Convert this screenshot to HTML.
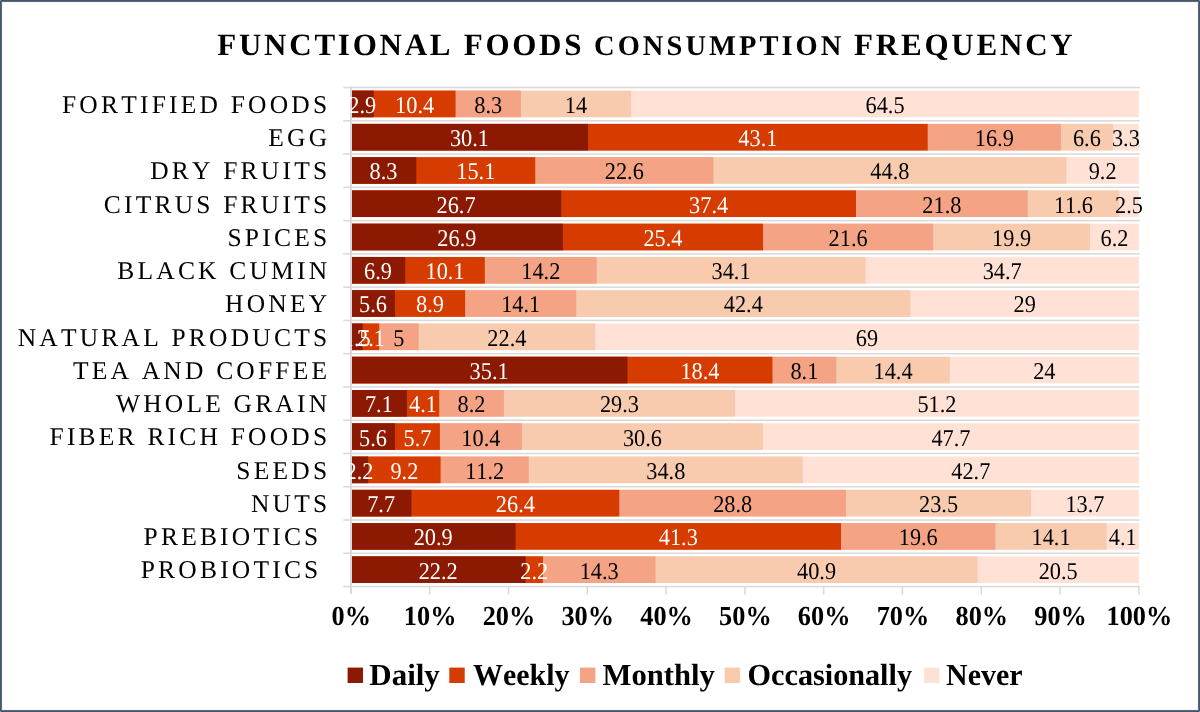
<!DOCTYPE html>
<html><head><meta charset="utf-8"><style>
html,body{margin:0;padding:0;background:#fff;}
body{width:1200px;height:712px;position:relative;overflow:hidden;}
#frame{position:absolute;left:0;top:0;width:1198px;height:710px;border:1px solid #44546A;box-shadow:inset 0 0 0 1px #5E6C82,inset 0 0 0 2px rgba(68,84,106,0.08);}
svg{position:absolute;left:0;top:0;will-change:transform;font-family:"Liberation Serif",serif;font-kerning:none;text-rendering:geometricPrecision;}
.v{font-size:24.0px;}
.c{font-size:25.5px;letter-spacing:3.2px;fill:#000;}
.a{font-size:27.0px;font-weight:bold;}
.t{font-size:31.0px;font-weight:bold;letter-spacing:2.75px;}
.k{position:absolute;width:1px;height:1px;background:#8C97A6;}
.l{font-size:30.67px;font-weight:bold;}
</style></head><body>
<svg width="1200" height="712" viewBox="0 0 1200 712"><rect x="343.35" y="86.80" width="796.30" height="1.5" fill="#D9D9D9"/><rect x="343.35" y="120.07" width="796.30" height="1.5" fill="#D9D9D9"/><rect x="343.35" y="153.33" width="796.30" height="1.5" fill="#D9D9D9"/><rect x="343.35" y="186.60" width="796.30" height="1.5" fill="#D9D9D9"/><rect x="343.35" y="219.87" width="796.30" height="1.5" fill="#D9D9D9"/><rect x="343.35" y="253.13" width="796.30" height="1.5" fill="#D9D9D9"/><rect x="343.35" y="286.40" width="796.30" height="1.5" fill="#D9D9D9"/><rect x="343.35" y="319.67" width="796.30" height="1.5" fill="#D9D9D9"/><rect x="343.35" y="352.94" width="796.30" height="1.5" fill="#D9D9D9"/><rect x="343.35" y="386.20" width="796.30" height="1.5" fill="#D9D9D9"/><rect x="343.35" y="419.47" width="796.30" height="1.5" fill="#D9D9D9"/><rect x="343.35" y="452.74" width="796.30" height="1.5" fill="#D9D9D9"/><rect x="343.35" y="486.00" width="796.30" height="1.5" fill="#D9D9D9"/><rect x="343.35" y="519.27" width="796.30" height="1.5" fill="#D9D9D9"/><rect x="343.35" y="552.54" width="796.30" height="1.5" fill="#D9D9D9"/><rect x="343.35" y="585.81" width="796.30" height="1.5" fill="#D9D9D9"/><rect x="428.91" y="586.31" width="1.5" height="8.3" fill="#D9D9D9"/><rect x="507.71" y="586.31" width="1.5" height="8.3" fill="#D9D9D9"/><rect x="586.52" y="586.31" width="1.5" height="8.3" fill="#D9D9D9"/><rect x="665.32" y="586.31" width="1.5" height="8.3" fill="#D9D9D9"/><rect x="744.12" y="586.31" width="1.5" height="8.3" fill="#D9D9D9"/><rect x="822.93" y="586.31" width="1.5" height="8.3" fill="#D9D9D9"/><rect x="901.74" y="586.31" width="1.5" height="8.3" fill="#D9D9D9"/><rect x="980.54" y="586.31" width="1.5" height="8.3" fill="#D9D9D9"/><rect x="1059.35" y="586.31" width="1.5" height="8.3" fill="#D9D9D9"/><rect x="1138.15" y="586.31" width="1.5" height="8.3" fill="#D9D9D9"/><rect x="350.85" y="90.63" width="788.05" height="26.60" fill="#FFE1D5"/><rect x="350.85" y="90.63" width="280.27" height="26.60" fill="#F8CBAE"/><rect x="350.85" y="90.63" width="170.05" height="26.60" fill="#F5A385"/><rect x="350.85" y="90.63" width="104.71" height="26.60" fill="#D63B00"/><rect x="350.85" y="90.63" width="22.83" height="26.60" fill="#8C1A02"/><rect x="350.85" y="123.90" width="788.05" height="26.60" fill="#FFE1D5"/><rect x="350.85" y="123.90" width="762.04" height="26.60" fill="#F8CBAE"/><rect x="350.85" y="123.90" width="710.03" height="26.60" fill="#F5A385"/><rect x="350.85" y="123.90" width="576.85" height="26.60" fill="#D63B00"/><rect x="350.85" y="123.90" width="237.20" height="26.60" fill="#8C1A02"/><rect x="350.85" y="157.17" width="788.05" height="26.60" fill="#FFE1D5"/><rect x="350.85" y="157.17" width="715.55" height="26.60" fill="#F8CBAE"/><rect x="350.85" y="157.17" width="362.50" height="26.60" fill="#F5A385"/><rect x="350.85" y="157.17" width="184.40" height="26.60" fill="#D63B00"/><rect x="350.85" y="157.17" width="65.41" height="26.60" fill="#8C1A02"/><rect x="350.85" y="190.43" width="788.05" height="26.60" fill="#FFE1D5"/><rect x="350.85" y="190.43" width="768.35" height="26.60" fill="#F8CBAE"/><rect x="350.85" y="190.43" width="676.93" height="26.60" fill="#F5A385"/><rect x="350.85" y="190.43" width="505.14" height="26.60" fill="#D63B00"/><rect x="350.85" y="190.43" width="210.41" height="26.60" fill="#8C1A02"/><rect x="350.85" y="223.70" width="788.05" height="26.60" fill="#FFE1D5"/><rect x="350.85" y="223.70" width="739.19" height="26.60" fill="#F8CBAE"/><rect x="350.85" y="223.70" width="582.37" height="26.60" fill="#F5A385"/><rect x="350.85" y="223.70" width="412.15" height="26.60" fill="#D63B00"/><rect x="350.85" y="223.70" width="211.99" height="26.60" fill="#8C1A02"/><rect x="350.85" y="256.97" width="788.05" height="26.60" fill="#FFE1D5"/><rect x="350.85" y="256.97" width="514.60" height="26.60" fill="#F8CBAE"/><rect x="350.85" y="256.97" width="245.87" height="26.60" fill="#F5A385"/><rect x="350.85" y="256.97" width="133.97" height="26.60" fill="#D63B00"/><rect x="350.85" y="256.97" width="54.38" height="26.60" fill="#8C1A02"/><rect x="350.85" y="290.24" width="788.05" height="26.60" fill="#FFE1D5"/><rect x="350.85" y="290.24" width="559.52" height="26.60" fill="#F8CBAE"/><rect x="350.85" y="290.24" width="225.38" height="26.60" fill="#F5A385"/><rect x="350.85" y="290.24" width="114.27" height="26.60" fill="#D63B00"/><rect x="350.85" y="290.24" width="44.13" height="26.60" fill="#8C1A02"/><rect x="350.85" y="323.50" width="788.05" height="26.60" fill="#FFE1D5"/><rect x="350.85" y="323.50" width="244.30" height="26.60" fill="#F8CBAE"/><rect x="350.85" y="323.50" width="67.77" height="26.60" fill="#F5A385"/><rect x="350.85" y="323.50" width="28.37" height="26.60" fill="#D63B00"/><rect x="350.85" y="323.50" width="11.82" height="26.60" fill="#8C1A02"/><rect x="350.85" y="356.77" width="788.05" height="26.60" fill="#FFE1D5"/><rect x="350.85" y="356.77" width="598.92" height="26.60" fill="#F8CBAE"/><rect x="350.85" y="356.77" width="485.44" height="26.60" fill="#F5A385"/><rect x="350.85" y="356.77" width="421.61" height="26.60" fill="#D63B00"/><rect x="350.85" y="356.77" width="276.61" height="26.60" fill="#8C1A02"/><rect x="350.85" y="390.04" width="788.05" height="26.60" fill="#FFE1D5"/><rect x="350.85" y="390.04" width="384.16" height="26.60" fill="#F8CBAE"/><rect x="350.85" y="390.04" width="153.03" height="26.60" fill="#F5A385"/><rect x="350.85" y="390.04" width="88.35" height="26.60" fill="#D63B00"/><rect x="350.85" y="390.04" width="56.01" height="26.60" fill="#8C1A02"/><rect x="350.85" y="423.30" width="788.05" height="26.60" fill="#FFE1D5"/><rect x="350.85" y="423.30" width="412.15" height="26.60" fill="#F8CBAE"/><rect x="350.85" y="423.30" width="171.01" height="26.60" fill="#F5A385"/><rect x="350.85" y="423.30" width="89.05" height="26.60" fill="#D63B00"/><rect x="350.85" y="423.30" width="44.13" height="26.60" fill="#8C1A02"/><rect x="350.85" y="456.57" width="788.05" height="26.60" fill="#FFE1D5"/><rect x="350.85" y="456.57" width="451.89" height="26.60" fill="#F8CBAE"/><rect x="350.85" y="456.57" width="177.92" height="26.60" fill="#F5A385"/><rect x="350.85" y="456.57" width="89.75" height="26.60" fill="#D63B00"/><rect x="350.85" y="456.57" width="17.32" height="26.60" fill="#8C1A02"/><rect x="350.85" y="489.84" width="788.05" height="26.60" fill="#FFE1D5"/><rect x="350.85" y="489.84" width="680.20" height="26.60" fill="#F8CBAE"/><rect x="350.85" y="489.84" width="495.19" height="26.60" fill="#F5A385"/><rect x="350.85" y="489.84" width="268.46" height="26.60" fill="#D63B00"/><rect x="350.85" y="489.84" width="60.62" height="26.60" fill="#8C1A02"/><rect x="350.85" y="523.10" width="788.05" height="26.60" fill="#FFE1D5"/><rect x="350.85" y="523.10" width="755.74" height="26.60" fill="#F8CBAE"/><rect x="350.85" y="523.10" width="644.62" height="26.60" fill="#F5A385"/><rect x="350.85" y="523.10" width="490.17" height="26.60" fill="#D63B00"/><rect x="350.85" y="523.10" width="164.70" height="26.60" fill="#8C1A02"/><rect x="350.85" y="556.37" width="788.05" height="26.60" fill="#FFE1D5"/><rect x="350.85" y="556.37" width="626.66" height="26.60" fill="#F8CBAE"/><rect x="350.85" y="556.37" width="304.67" height="26.60" fill="#F5A385"/><rect x="350.85" y="556.37" width="192.09" height="26.60" fill="#D63B00"/><rect x="350.85" y="556.37" width="174.77" height="26.60" fill="#8C1A02"/><rect x="350.00" y="86.55" width="2.0" height="507.31" fill="#D9D9D9"/><g class="v" text-anchor="middle"><text transform="translate(362.27,112.83) scale(0.93,1.0)" fill="#fff">2.9</text><text transform="translate(414.62,112.83) scale(0.93,1.0)" fill="#fff">10.4</text><text transform="translate(488.23,112.83) scale(0.93,1.0)" fill="#000">8.3</text><text transform="translate(576.01,112.83) scale(0.93,1.0)" fill="#000">14</text><text transform="translate(885.01,112.83) scale(0.93,1.0)" fill="#000">64.5</text><text transform="translate(469.45,146.10) scale(0.93,1.0)" fill="#fff">30.1</text><text transform="translate(757.88,146.10) scale(0.93,1.0)" fill="#fff">43.1</text><text transform="translate(994.29,146.10) scale(0.93,1.0)" fill="#000">16.9</text><text transform="translate(1086.89,146.10) scale(0.93,1.0)" fill="#000">6.6</text><text transform="translate(1125.90,146.10) scale(0.93,1.0)" fill="#000">3.3</text><text transform="translate(383.55,179.37) scale(0.93,1.0)" fill="#fff">8.3</text><text transform="translate(475.76,179.37) scale(0.93,1.0)" fill="#fff">15.1</text><text transform="translate(624.30,179.37) scale(0.93,1.0)" fill="#000">22.6</text><text transform="translate(889.88,179.37) scale(0.93,1.0)" fill="#000">44.8</text><text transform="translate(1102.65,179.37) scale(0.93,1.0)" fill="#000">9.2</text><text transform="translate(456.05,212.63) scale(0.93,1.0)" fill="#fff">26.7</text><text transform="translate(708.62,212.63) scale(0.93,1.0)" fill="#fff">37.4</text><text transform="translate(941.89,212.63) scale(0.93,1.0)" fill="#000">21.8</text><text transform="translate(1073.49,212.63) scale(0.93,1.0)" fill="#000">11.6</text><text transform="translate(1129.05,212.63) scale(0.93,1.0)" fill="#000">2.5</text><text transform="translate(456.84,245.90) scale(0.93,1.0)" fill="#fff">26.9</text><text transform="translate(662.92,245.90) scale(0.93,1.0)" fill="#fff">25.4</text><text transform="translate(848.11,245.90) scale(0.93,1.0)" fill="#000">21.6</text><text transform="translate(1011.63,245.90) scale(0.93,1.0)" fill="#000">19.9</text><text transform="translate(1114.47,245.90) scale(0.93,1.0)" fill="#000">6.2</text><text transform="translate(378.04,279.17) scale(0.93,1.0)" fill="#fff">6.9</text><text transform="translate(445.02,279.17) scale(0.93,1.0)" fill="#fff">10.1</text><text transform="translate(540.77,279.17) scale(0.93,1.0)" fill="#000">14.2</text><text transform="translate(731.08,279.17) scale(0.93,1.0)" fill="#000">34.1</text><text transform="translate(1002.17,279.17) scale(0.93,1.0)" fill="#000">34.7</text><text transform="translate(372.92,312.44) scale(0.93,1.0)" fill="#fff">5.6</text><text transform="translate(430.05,312.44) scale(0.93,1.0)" fill="#fff">8.9</text><text transform="translate(520.67,312.44) scale(0.93,1.0)" fill="#000">14.1</text><text transform="translate(743.30,312.44) scale(0.93,1.0)" fill="#000">42.4</text><text transform="translate(1024.63,312.44) scale(0.93,1.0)" fill="#000">29</text><text transform="translate(356.76,345.70) scale(0.93,1.0)" fill="#fff">1.5</text><text transform="translate(370.95,345.70) scale(0.93,1.0)" fill="#fff">2.1</text><text transform="translate(398.92,345.70) scale(0.93,1.0)" fill="#000">5</text><text transform="translate(506.88,345.70) scale(0.93,1.0)" fill="#000">22.4</text><text transform="translate(867.02,345.70) scale(0.93,1.0)" fill="#000">69</text><text transform="translate(489.15,378.97) scale(0.93,1.0)" fill="#fff">35.1</text><text transform="translate(699.96,378.97) scale(0.93,1.0)" fill="#fff">18.4</text><text transform="translate(804.37,378.97) scale(0.93,1.0)" fill="#000">8.1</text><text transform="translate(893.03,378.97) scale(0.93,1.0)" fill="#000">14.4</text><text transform="translate(1044.33,378.97) scale(0.93,1.0)" fill="#000">24</text><text transform="translate(378.85,412.24) scale(0.93,1.0)" fill="#fff">7.1</text><text transform="translate(423.03,412.24) scale(0.93,1.0)" fill="#fff">4.1</text><text transform="translate(471.54,412.24) scale(0.93,1.0)" fill="#000">8.2</text><text transform="translate(619.45,412.24) scale(0.93,1.0)" fill="#000">29.3</text><text transform="translate(936.96,412.24) scale(0.93,1.0)" fill="#000">51.2</text><text transform="translate(372.92,445.50) scale(0.93,1.0)" fill="#fff">5.6</text><text transform="translate(417.44,445.50) scale(0.93,1.0)" fill="#fff">5.7</text><text transform="translate(480.88,445.50) scale(0.93,1.0)" fill="#000">10.4</text><text transform="translate(642.43,445.50) scale(0.93,1.0)" fill="#000">30.6</text><text transform="translate(950.95,445.50) scale(0.93,1.0)" fill="#000">47.7</text><text transform="translate(359.51,478.77) scale(0.93,1.0)" fill="#fff">2.2</text><text transform="translate(404.38,478.77) scale(0.93,1.0)" fill="#fff">9.2</text><text transform="translate(484.68,478.77) scale(0.93,1.0)" fill="#000">11.2</text><text transform="translate(665.76,478.77) scale(0.93,1.0)" fill="#000">34.8</text><text transform="translate(970.82,478.77) scale(0.93,1.0)" fill="#000">42.7</text><text transform="translate(381.16,512.04) scale(0.93,1.0)" fill="#fff">7.7</text><text transform="translate(515.39,512.04) scale(0.93,1.0)" fill="#fff">26.4</text><text transform="translate(732.67,512.04) scale(0.93,1.0)" fill="#000">28.8</text><text transform="translate(938.54,512.04) scale(0.93,1.0)" fill="#000">23.5</text><text transform="translate(1084.97,512.04) scale(0.93,1.0)" fill="#000">13.7</text><text transform="translate(433.20,545.30) scale(0.93,1.0)" fill="#fff">20.9</text><text transform="translate(678.28,545.30) scale(0.93,1.0)" fill="#fff">41.3</text><text transform="translate(918.25,545.30) scale(0.93,1.0)" fill="#000">19.6</text><text transform="translate(1051.03,545.30) scale(0.93,1.0)" fill="#000">14.1</text><text transform="translate(1122.74,545.30) scale(0.93,1.0)" fill="#000">4.1</text><text transform="translate(438.24,578.57) scale(0.93,1.0)" fill="#fff">22.2</text><text transform="translate(534.28,578.57) scale(0.93,1.0)" fill="#fff">2.2</text><text transform="translate(599.23,578.57) scale(0.93,1.0)" fill="#000">14.3</text><text transform="translate(816.52,578.57) scale(0.93,1.0)" fill="#000">40.9</text><text transform="translate(1058.21,578.57) scale(0.93,1.0)" fill="#000">20.5</text></g><g class="c" text-anchor="end"><text x="330.30" y="112.73">FORTIFIED FOODS</text><text x="330.30" y="146.00">EGG</text><text x="330.30" y="179.27">DRY FRUITS</text><text x="330.30" y="212.53">CITRUS FRUITS</text><text x="330.30" y="245.80">SPICES</text><text x="330.30" y="279.07">BLACK CUMIN</text><text x="330.30" y="312.34">HONEY</text><text x="330.30" y="345.60">NATURAL PRODUCTS</text><text x="330.30" y="378.87">TEA AND COFFEE</text><text x="330.30" y="412.14">WHOLE GRAIN</text><text x="330.30" y="445.40">FIBER RICH FOODS</text><text x="330.30" y="478.67">SEEDS</text><text x="330.30" y="511.94">NUTS</text><text x="321.50" y="545.20">PREBIOTICS</text><text x="321.50" y="578.47">PROBIOTICS</text></g><g class="a" text-anchor="middle"><text transform="translate(351.35,625.40) scale(0.975,1.02)">0%</text><text transform="translate(430.16,625.40) scale(0.975,1.02)">10%</text><text transform="translate(508.96,625.40) scale(0.975,1.02)">20%</text><text transform="translate(587.77,625.40) scale(0.975,1.02)">30%</text><text transform="translate(666.57,625.40) scale(0.975,1.02)">40%</text><text transform="translate(745.38,625.40) scale(0.975,1.02)">50%</text><text transform="translate(824.18,625.40) scale(0.975,1.02)">60%</text><text transform="translate(902.99,625.40) scale(0.975,1.02)">70%</text><text transform="translate(981.79,625.40) scale(0.975,1.02)">80%</text><text transform="translate(1060.60,625.40) scale(0.975,1.02)">90%</text><text transform="translate(1139.40,625.40) scale(0.975,1.02)">100%</text></g><g class="t"><text x="217.30" y="54.60">FUNCTIONAL FOODS</text><text x="594.00" y="54.60" style="font-size:28.5px;letter-spacing:3.05px">CONSUMPTION</text><text x="854.00" y="54.60" style="letter-spacing:2.8px">FREQUENCY</text></g><g class="l"><rect x="347.60" y="667.60" width="15.4" height="15.4" fill="#8C1A02"/><text transform="translate(369.30,684.80) scale(1.01,1)">Daily</text><rect x="449.30" y="667.60" width="15.4" height="15.4" fill="#D63B00"/><text transform="translate(473.00,684.80) scale(0.977,1)">Weekly</text><rect x="580.00" y="667.60" width="15.4" height="15.4" fill="#F5A385"/><text transform="translate(602.50,684.80) scale(1.0,1)">Monthly</text><rect x="724.70" y="667.60" width="15.4" height="15.4" fill="#F8CBAE"/><text transform="translate(747.60,684.80) scale(0.985,1)">Occasionally</text><rect x="924.10" y="667.60" width="15.4" height="15.4" fill="#FFE1D5"/><text transform="translate(946.00,684.80) scale(0.977,1)">Never</text></g></svg>
<div id="frame"></div><i class="k" style="left:0;top:0"></i><i class="k" style="right:0;top:0"></i><i class="k" style="left:0;bottom:0"></i><i class="k" style="right:0;bottom:0"></i>
</body></html>
